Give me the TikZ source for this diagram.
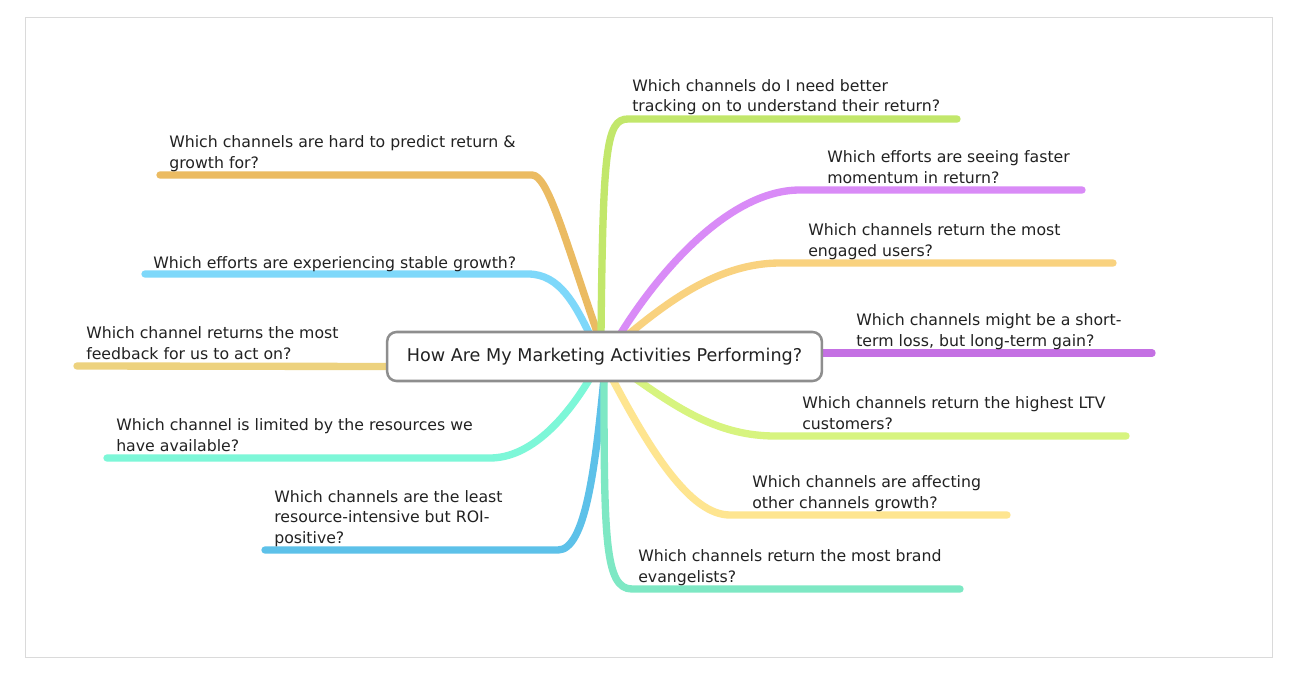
\documentclass[tikz,border=0pt]{standalone}
\usepackage{fontspec}
\setmainfont{DejaVu Sans}
\usetikzlibrary{calc,backgrounds}
\definecolor{txt}{HTML}{222222}
\definecolor{frm}{HTML}{DADADA}
\definecolor{hubline}{HTML}{8E8E8E}
\definecolor{cA}{HTML}{EBBB62}
\definecolor{cB}{HTML}{7ED8FA}
\definecolor{cC}{HTML}{EDD27E}
\definecolor{cD}{HTML}{7DF7D8}
\definecolor{cE}{HTML}{5DC1E9}
\definecolor{cF}{HTML}{C2E76B}
\definecolor{cG}{HTML}{D98BF7}
\definecolor{cH}{HTML}{F9D27F}
\definecolor{cI}{HTML}{C470E3}
\definecolor{cJ}{HTML}{D7F47F}
\definecolor{cK}{HTML}{FEE590}
\definecolor{cL}{HTML}{7EE8C4}
\tikzset{
  qtext/.style={anchor=base west, inner sep=0pt, align=left, text=txt,
    font=\fontsize{11.8}{15.4}\selectfont},
  branch/.style={line width=5.5pt, line cap=round, line join=round},
  hubbox/.style={draw=hubline, line width=1.9pt, rounded corners=7pt, fill=white,
    minimum width=326pt, minimum height=36.75pt, inner sep=0pt, text=txt,
    font=\fontsize{13.2}{16}\selectfont}
}
\begin{document}
\begin{tikzpicture}[x={(0.75pt,0)}, y={(0,-0.75pt)}]
\useasboundingbox (0,0) rectangle (1312,688);
\node[hubbox] (hub) at (604.5,356.5) {How Are My Marketing Activities Performing?};

% question texts (anchored at the baseline of their last line)
\node[qtext] (q1) at (169,168) {Which channels are hard to predict return \&\\growth for?};
\node[qtext] (q2) at (153,268.5) {Which efforts are experiencing stable growth?};
\node[qtext] (q3) at (86,359) {Which channel returns the most\\feedback for us to act on?};
\node[qtext] (q4) at (116,451) {Which channel is limited by the resources we\\have available?};
\node[qtext] (q5) at (274,543.5) {Which channels are the least\\resource-intensive but ROI-\\positive?};
\node[qtext] (q6) at (632,112) {Which channels do I need better\\tracking on to understand their return?};
\node[qtext] (q7) at (827,183) {Which efforts are seeing faster\\momentum in return?};
\node[qtext] (q8) at (808,256) {Which channels return the most\\engaged users?};
\node[qtext] (q9) at (856,346) {Which channels might be a short-\\term loss, but long-term gain?};
\node[qtext] (q10) at (802,429) {Which channels return the highest LTV\\customers?};
\node[qtext] (q11) at (752,508) {Which channels are affecting\\other channels growth?};
\node[qtext] (q12) at (638,582) {Which channels return the most brand\\evangelists?};

% branch coordinates
\coordinate (e1) at (160,175);  \coordinate (c1) at (532,175);
\coordinate (e2) at (145,274);  \coordinate (c2) at (528,274);
\coordinate (e3) at (77,366);
\coordinate (e4) at (107,458);  \coordinate (c4) at (490,458);
\coordinate (e5) at (265,550);  \coordinate (c5) at (558,550);
\coordinate (e6) at (957,119);  \coordinate (c6) at (628,119);
\coordinate (e7) at (1082,190); \coordinate (c7) at (800,190);
\coordinate (e8) at (1113,263); \coordinate (c8) at (780,263);
\coordinate (e9) at (1152,353);
\coordinate (e10) at (1126,436); \coordinate (c10) at (775,436);
\coordinate (e11) at (1007,515); \coordinate (c11) at (730,515);
\coordinate (e12) at (960,589);  \coordinate (c12) at (632,589);

\begin{scope}[on background layer]
  \fill[white] (0,0) rectangle (1312,688);
  \draw[frm, line width=0.75pt] (25,18) rectangle (1272,657);
  \draw[branch, cA] ($(hub.north)+(-6.5,4)$) .. controls (565,240) and (548,175) .. (c1) -- (e1);
  \draw[branch, cB] ($(hub.north)+(-14.5,4)$) .. controls (575,305) and (560,274) .. (c2) -- (e2);
  \draw[branch, cC] ($(hub.west)+(6,10)$) -- (e3);
  \draw[branch, cD] ($(hub.south)+(-14.5,-4)$) .. controls (565,420) and (530,458) .. (c4) -- (e4);
  \draw[branch, cE] ($(hub.south)+(-0.5,-4)$) .. controls (595,470) and (585,550) .. (c5) -- (e5);
  \draw[branch, cF] ($(hub.north)+(-3.5,4)$) .. controls (603,150) and (606,119) .. (c6) -- (e6);
  \draw[branch, cG] ($(hub.north)+(15.5,4)$) .. controls (660,270) and (730,190) .. (c7) -- (e7);
  \draw[branch, cH] ($(hub.north)+(23.5,4)$) .. controls (670,300) and (720,263) .. (c8) -- (e8);
  \draw[branch, cI] ($(hub.east)+(-6,-3.5)$) -- (e9);
  \draw[branch, cJ] ($(hub.south)+(30.5,-4)$) .. controls (680,410) and (720,436) .. (c10) -- (e10);
  \draw[branch, cK] ($(hub.south)+(7.5,-4)$) .. controls (650,450) and (690,515) .. (c11) -- (e11);
  \draw[branch, cL] ($(hub.south)+(-0.5,-4)$) .. controls (604,540) and (605,589) .. (c12) -- (e12);
\end{scope}
\end{tikzpicture}
\end{document}
